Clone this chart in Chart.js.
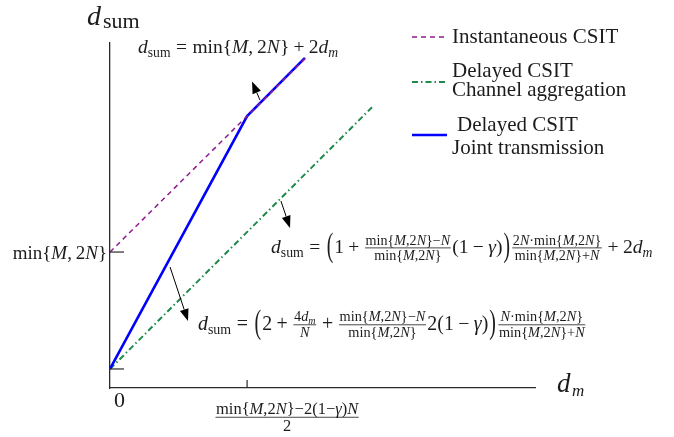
<!DOCTYPE html>
<html><head><meta charset="utf-8">
<script src="https://cdn.jsdelivr.net/npm/chart.js@4.4.1/dist/chart.umd.min.js"></script>
<style>html,body{margin:0;padding:0;background:#fff;} canvas{display:block;}</style>
</head><body>
<canvas id="c" width="674" height="437"></canvas>
<script>
// ---- data (arbitrary units) ----
const dmInstant   = [0, 1.422];
const dsumInstant = [4, 9.69];
const dmJoint     = [0, 1, 1.422];
const dsumJoint   = [0.56, 8, 9.71];
const dmAgg       = [0, 1.911];
const dsumAgg     = [0.56, 8.26];
const seriesNames = ['Instantaneous CSIT', 'Delayed CSIT Channel aggregation', 'Delayed CSIT Joint transmission'];
const legendLines = [['Instantaneous CSIT'], ['Delayed CSIT', 'Channel aggregation'], ['Delayed CSIT', 'Joint transmission']];
const yTickValues = [0.56, 4];
const xTickValues = [1];
const arrowsData = [
  {from: [1.094, 8.47], to: [1.036, 9.02]},
  {from: [1.247, 5.5],  to: [1.313, 4.71]},
  {from: [0.438, 3.56], to: [0.569, 1.97]}
];

const SERIF = '"Liberation Serif","Times New Roman","DejaVu Serif",serif';
const INK = '#1c1c1c';
const AXIS = '#2a2a2a';
const font = (s, i) => (i ? 'italic ' : '') + s + 'px ' + SERIF;

// ---- tiny math typesetter ----
const T = (s, i) => ({k: 't', s, i: !!i});
const I = s => T(s, true), R = s => T(s, false);
const OP = s => ({k: 't', s, i: false, pad: 0.22});
const REL = s => ({k: 't', s, i: false, pad: 0.28});
const SUB = (...c) => ({k: 'sub', c});
const FR = (n, d, sc) => ({k: 'f', n, d, sc});
const P = s => ({k: 'p', s, h: 1.7});
const SP = w => ({k: 'sp', w});
const minT = () => [R('min{'), I('M'), R(',2'), I('N'), R('}')];

function mW(ctx, items, size) { let w = 0; for (const it of items) w += itemW(ctx, it, size); return w; }
function itemW(ctx, it, size) {
  switch (it.k) {
    case 't': ctx.font = font(size, it.i); return ctx.measureText(it.s).width + (it.pad || 0) * size * 2;
    case 'sub': return mW(ctx, it.c, size * 0.7);
    case 'f': { const s = size * (it.sc || 0.72); return Math.max(mW(ctx, it.n, s), mW(ctx, it.d, s)) + 0.2 * size; }
    case 'p': ctx.font = font(size, false); return ctx.measureText(it.s).width + 0.1 * size;
    case 'sp': return it.w * size;
  }
  return 0;
}
function dI(ctx, items, x, y, size) { for (const it of items) x = drawItem(ctx, it, x, y, size); return x; }
function drawItem(ctx, it, x, y, size) {
  const w = itemW(ctx, it, size);
  if (it.k === 't') { ctx.font = font(size, it.i); ctx.fillText(it.s, x + (it.pad || 0) * size, y); }
  else if (it.k === 'sub') dI(ctx, it.c, x, y + size * 0.2, size * 0.7);
  else if (it.k === 'f') {
    const s = size * (it.sc || 0.72), ax = y - size * 0.26;
    const nw = mW(ctx, it.n, s), dw = mW(ctx, it.d, s);
    ctx.fillRect(x + 0.07 * size, ax - 0.4, w - 0.14 * size, 0.8);
    dI(ctx, it.n, x + (w - nw) / 2, ax - 0.17 * size, s);
    dI(ctx, it.d, x + (w - dw) / 2, ax + 0.15 * size + 0.66 * s, s);
  } else if (it.k === 'p') {
    ctx.save(); ctx.font = font(size, false);
    ctx.translate(x + 0.05 * size, y - size * 0.26); ctx.scale(1, it.h);
    ctx.fillText(it.s, 0, 0.255 * size); ctx.restore();
  }
  return x + w;
}

const fTop = [I('d'), SUB(R('sum')), REL('='), R('min{'), I('M'), R(','), SP(0.2), R('2'), I('N'), R('}'), OP('+'), R('2'), I('d'), SUB(I('m'))];
const fAgg = [I('d'), SUB(R('sum')), REL('='), P('('), R('1'), OP('+'),
  FR([...minT(), R('\u2212'), I('N')], minT()), R('(1'), OP('\u2212'), I('\u03b3'), R(')'), P(')'),
  FR([R('2'), I('N'), R('\u00b7'), ...minT()], [...minT(), R('+'), I('N')]), OP('+'), R('2'), I('d'), SUB(I('m'))];
const fJoint = [I('d'), SUB(R('sum')), REL('='), P('('), R('2'), OP('+'),
  FR([R('4'), I('d'), SUB(I('m'))], [I('N')]), OP('+'),
  FR([...minT(), R('\u2212'), I('N')], minT()), R('2(1'), OP('\u2212'), I('\u03b3'), R(')'), P(')'),
  FR([I('N'), R('\u00b7'), ...minT()], [...minT(), R('+'), I('N')])];
const fXTick = [FR([...minT(), R('\u22122(1\u2212'), I('\u03b3'), R(')'), I('N')], [R('2')], 1)];

function arrow(ctx, x1, y1, x2, y2) {
  const a = Math.atan2(y2 - y1, x2 - x1), L = 12, W = 4.5;
  const bx = x2 - L * Math.cos(a), by = y2 - L * Math.sin(a);
  ctx.beginPath(); ctx.moveTo(x1, y1); ctx.lineTo(bx, by); ctx.stroke();
  ctx.beginPath(); ctx.moveTo(x2, y2);
  ctx.lineTo(bx + W * Math.sin(a), by - W * Math.cos(a));
  ctx.lineTo(bx - W * Math.sin(a), by + W * Math.cos(a));
  ctx.closePath(); ctx.fill();
}

const decor = {
  id: 'decor',
  afterDatasetsDraw(chart) {
    const ctx = chart.ctx, xs = chart.scales.x, ys = chart.scales.y;
    const px = v => xs.getPixelForValue(v), py = v => ys.getPixelForValue(v);
    ctx.save();
    ctx.strokeStyle = AXIS; ctx.lineWidth = 1.2; ctx.setLineDash([]);
    yTickValues.forEach(v => { ctx.beginPath(); ctx.moveTo(px(0), py(v)); ctx.lineTo(px(0) + 14, py(v)); ctx.stroke(); });
    xTickValues.forEach(v => { ctx.beginPath(); ctx.moveTo(px(v), py(0)); ctx.lineTo(px(v), py(0) - 8); ctx.stroke(); });
    ctx.strokeStyle = '#000'; ctx.fillStyle = '#000'; ctx.lineWidth = 1;
    arrowsData.forEach(a => arrow(ctx, px(a.from[0]), py(a.from[1]), px(a.to[0]), py(a.to[1])));

    ctx.fillStyle = INK; ctx.textBaseline = 'alphabetic'; ctx.textAlign = 'left';
    // axis titles
    ctx.font = font(28, true); ctx.fillText('d', 87, 25);
    ctx.font = font(22, false); ctx.fillText('sum', 103, 28);
    ctx.font = font(27, true); ctx.fillText('d', 557, 392);
    ctx.font = font(17, true); ctx.fillText('m', 572, 396);
    // tick labels
    ctx.font = font(22, false); ctx.textAlign = 'center'; ctx.fillText('0', px(0) + 9.5, 407);
    ctx.textAlign = 'left';
    const yl = [R('min{'), I('M'), R(','), SP(0.2), R('2'), I('N'), R('}')];
    const ylw = mW(ctx, yl, 19);
    dI(ctx, yl, px(0) - 3 - ylw, py(yTickValues[1]) + 7, 19);
    const xw = mW(ctx, fXTick, 16.5);
    dI(ctx, fXTick, px(xTickValues[0]) + 40 - xw / 2, 421.5, 16.5);
    // formulas
    dI(ctx, fTop, 138, 53, 19.5);
    dI(ctx, fAgg, 271, 253, 19.6);
    dI(ctx, fJoint, 198, 330, 19.9);
    // legend
    const ds = chart.data.datasets;
    const leg = [
      {y: 37, lines: [[452, 43]]},
      {y: 82, lines: [[452, 77], [452, 96]]},
      {y: 135, lines: [[457, 131], [452, 154]]}
    ];
    leg.forEach((L, i) => {
      const d = ds[i];
      ctx.save(); ctx.strokeStyle = d.borderColor; ctx.lineWidth = d.borderWidth;
      ctx.setLineDash(d.borderDash || []);
      ctx.beginPath(); ctx.moveTo(412, L.y); ctx.lineTo(447, L.y); ctx.stroke(); ctx.restore();
      ctx.font = font(21, false); ctx.fillStyle = INK;
      legendLines[i].forEach((t, j) => ctx.fillText(t, L.lines[j][0], L.lines[j][1]));
    });
    ctx.restore();
  }
};

const pts = (xs, ys) => xs.map((x, i) => ({x, y: ys[i]}));
new Chart(document.getElementById('c'), {
  type: 'scatter',
  data: {
    datasets: [
      {label: seriesNames[0], data: pts(dmInstant, dsumInstant), showLine: true, borderColor: '#8e1a8e',
       borderWidth: 1.5, borderDash: [5, 4], pointRadius: 0, order: 0, clip: false},
      {label: seriesNames[1], data: pts(dmAgg, dsumAgg), showLine: true, borderColor: '#1f8a4c',
       borderWidth: 2, borderDash: [6, 3, 1.5, 3], pointRadius: 0, order: 2, clip: false},
      {label: seriesNames[2], data: pts(dmJoint, dsumJoint), showLine: true, borderColor: '#0000ff',
       borderWidth: 2.6, pointRadius: 0, order: 1, clip: false}
    ]
  },
  options: {
    responsive: false, devicePixelRatio: 1, animation: false,
    layout: {padding: {left: 110, top: 43, right: 139, bottom: 49}},
    plugins: {legend: {display: false}, tooltip: {enabled: false}, title: {display: false}},
    scales: {
      x: {type: 'linear', min: 0, max: 3.1, grid: {display: false, drawTicks: false},
          ticks: {display: false}, border: {display: true, color: AXIS, width: 1.3}},
      y: {type: 'linear', min: 0, max: 10.15, grid: {display: false, drawTicks: false},
          ticks: {display: false}, border: {display: true, color: AXIS, width: 1.3}}
    }
  },
  plugins: [decor]
});
</script></body></html>
